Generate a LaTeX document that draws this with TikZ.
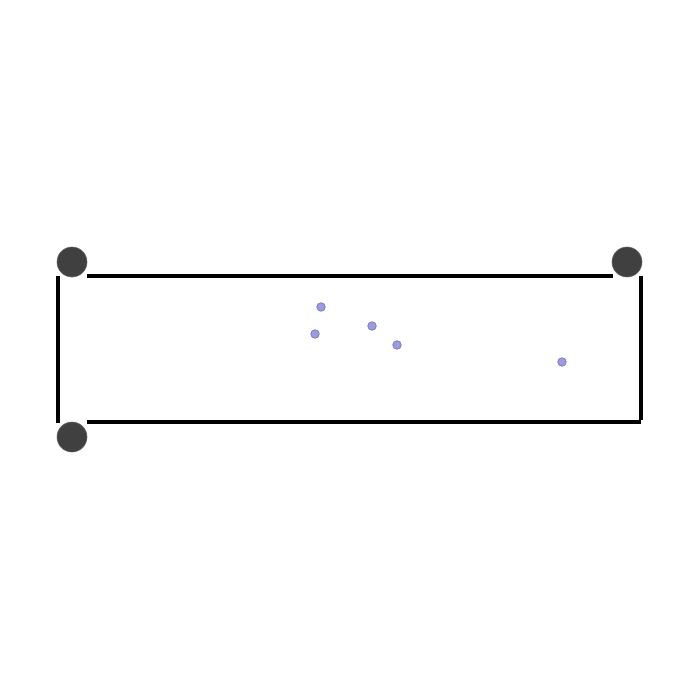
\documentclass[tikz,border=0pt]{standalone}
\definecolor{dotfill}{RGB}{155,155,222}
\definecolor{dotdraw}{RGB}{125,125,195}
\definecolor{cornerfill}{RGB}{64,64,64}
\begin{document}
\begin{tikzpicture}[x=1pt,y=-1pt,
  edge/.style={line width=3.5pt, black},
  corner/.style={circle, fill=cornerfill, draw=black!60, line width=0.6pt, minimum size=30pt, inner sep=0pt},
  pt/.style={circle, fill=dotfill, draw=dotdraw, line width=0.8pt, minimum size=8.5pt, inner sep=0pt}]
\useasboundingbox (0,0) rectangle (700,700);
% rectangle sides
\coordinate (t1) at (87,276);
\coordinate (t2) at (613,276);
\coordinate (l1) at (58,276);
\coordinate (l2) at (58,423);
\coordinate (b1) at (87,422);
\coordinate (b2) at (641,422);
\coordinate (r1) at (641,276);
\draw[edge] (t1) -- (t2);
\draw[edge] (l1) -- (l2);
\draw[edge] (b1) -- (b2);
\draw[edge] (r1) -- ([yshift=1.75pt]b2);
% corner circles
\node[corner] (c1) at (72,262) {};
\node[corner] (c2) at (627,262) {};
\node[corner] (c3) at (72,437) {};
% dots
\node[pt] (d1) at (321,307) {};
\node[pt] (d2) at (315,334) {};
\node[pt] (d3) at (372,326) {};
\node[pt] (d4) at (397,345) {};
\node[pt] (d5) at (562,362) {};
\end{tikzpicture}
\end{document}
